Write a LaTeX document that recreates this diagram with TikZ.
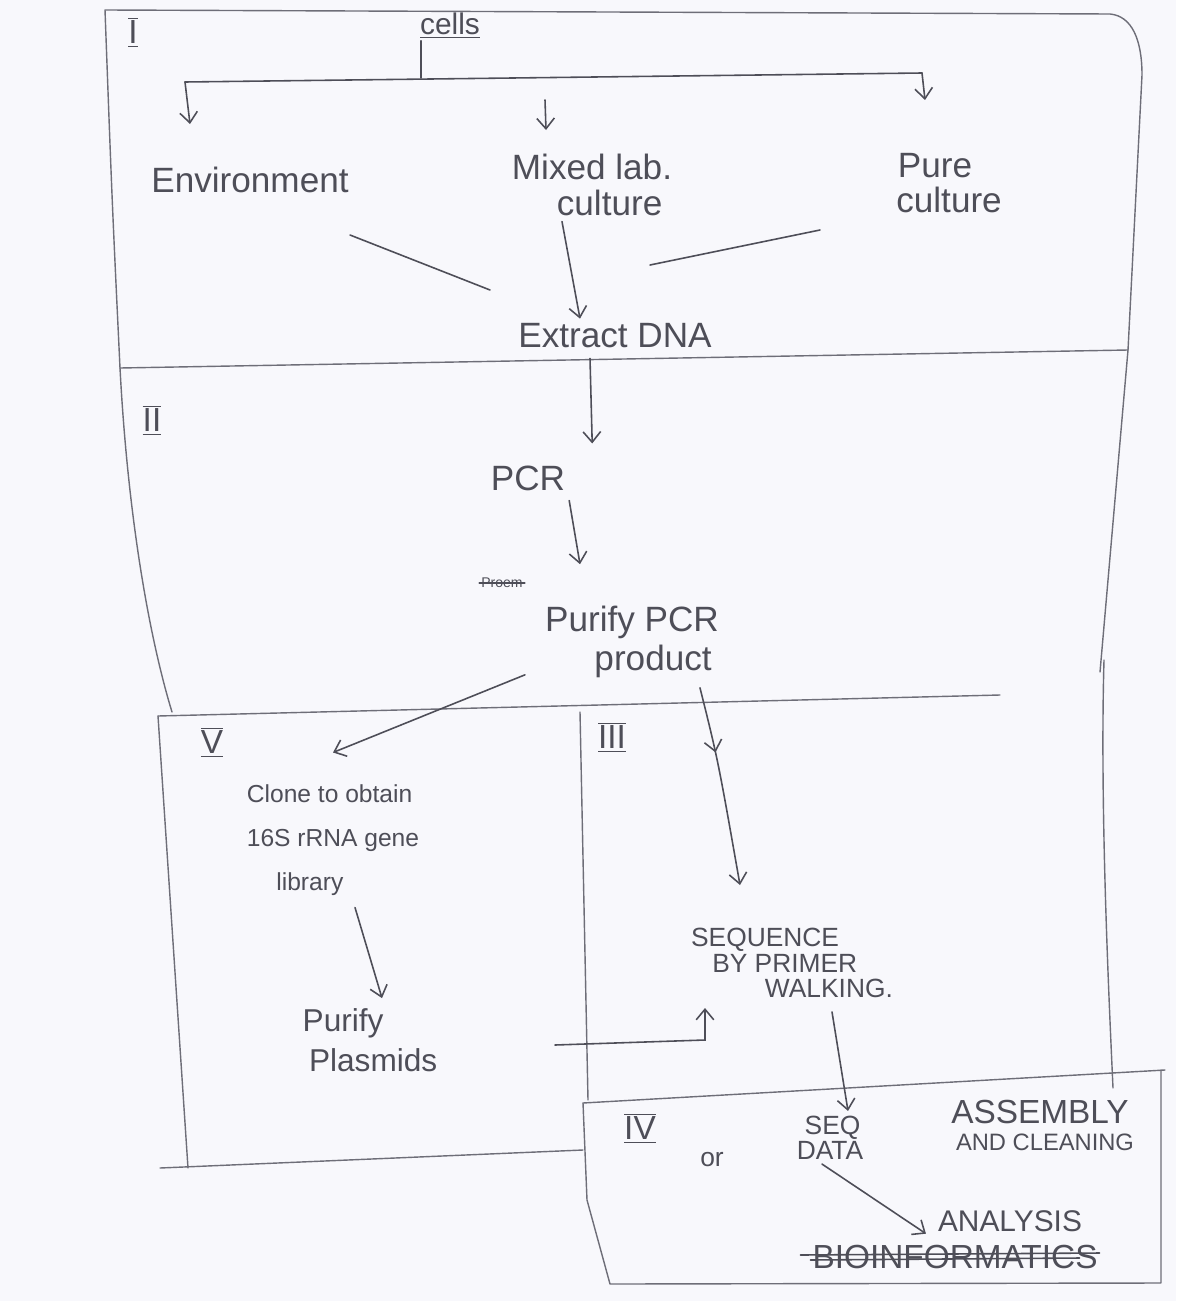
\documentclass[tikz,border=0pt]{standalone}
\usepackage{fontspec}
\setmainfont{Liberation Sans}
\usetikzlibrary{arrows.meta,calc,decorations.markings}
\definecolor{ink}{RGB}{78,78,88}
\definecolor{frame}{RGB}{110,110,120}
\definecolor{paper}{RGB}{248,248,252}
\newcommand{\rnum}[1]{$\overline{\underline{\mbox{#1}}}$}
\begin{document}
\begin{tikzpicture}[x=0.02cm,y=-0.02cm,
  pen/.style={draw=frame, line width=0.8pt, line cap=round, line join=round},
  arr/.style={draw=ink, line width=0.9pt, line cap=round, -{Straight Barb[length=6pt,width=10pt]}},
  ink/.style={draw=ink, line width=0.9pt, line cap=round},
  txt/.style={text=ink, inner sep=1pt, align=center, font=\fontsize{20}{22}\selectfont},
  caps/.style={txt, align=left, font=\fontsize{15}{14.5}\selectfont},
  roman/.style={txt, font=\fontsize{19}{21}\selectfont}]
\fill[paper] (0,0) rectangle (1176,1301);
\useasboundingbox (0,0) rectangle (1176,1301);

% ---------- frames ----------
\draw[pen] (120,368) .. controls (112,200) .. (105,10) -- (1110,14)
  .. controls (1132,16) and (1142,40) .. (1142,75) -- (1128,350) -- (1100,672);
\draw[pen] (120,368) .. controls (128,520) and (150,640) .. (172,712);
\draw[pen] (120,368) -- (1128,350);
\draw[pen] (158,716) -- (1000,695);
\draw[pen] (158,716) -- (188,1168);
\draw[pen] (160,1168) -- (583,1150);
\draw[pen] (580,712) -- (588,1100);
\draw[pen] (1104,660) .. controls (1100,800) and (1108,980) .. (1113,1088);
\draw[pen] (583,1103) -- (1165,1070);
\draw[pen] (583,1103) -- (587,1200) -- (610,1284) -- (1161,1283) -- (1161,1070);

% ---------- roman numerals ----------
\node[roman] (rI)   at (133,32)   {\rnum{I}};
\node[roman] (rII)  at (152,420)  {\rnum{II}};
\node[roman] (rV)   at (212,742)  {\rnum{V}};
\node[roman] (rIII) at (612,737)  {\rnum{III}};
\node[roman] (rIV)  at (640,1128) {\rnum{IV}};

% ---------- section I ----------
\node[txt, font=\fontsize{17}{19}\selectfont] (cells) at (450,26) {\underline{cells}};
\node[txt] (env)   at (250,180) {Environment};
\node[txt, font=\fontsize{20}{20}\selectfont] (mixed) at (592,185) {Mixed lab.\\\hspace*{1em}culture};
\node[txt, font=\fontsize{20}{20}\selectfont] (pure)  at (935,183) {Pure\\\hspace*{0.8em}culture};
\node[txt] (extract) at (615,336) {Extract DNA};

\coordinate (split) at (421,78);
\coordinate (bl) at (185,82);
\coordinate (br) at (922,73);
\coordinate (envtip) at (190,124);
\coordinate (mixtip) at (546,130);
\coordinate (puretip) at (925,100);
\draw[ink] (cells.south -| split) -- (split);
\draw[ink] (bl) -- (br);
\draw[arr] (bl) -- (envtip);
\draw[arr] (545,100) -- (mixtip);
\draw[arr] (br) -- (puretip);

\coordinate (envout) at (350,235);
\coordinate (envin) at (490,290);
\coordinate (pureout) at (820,230);
\coordinate (purein) at (650,265);
\draw[ink] (envout) -- (envin);
\draw[ink] (pureout) -- (purein);
\draw[arr] ($(mixed.south)+(-30,4)$) -- ($(extract.north)+(-35,-3)$);

% ---------- section II ----------
\node[txt] (pcr) at (528,478) {PCR};
\node[txt] (purify) at (632,642) {Purify PCR\\\hspace*{1.2em}product};
\node[txt, font=\fontsize{8}{9}\selectfont] (strike) at (502,583) {Proem};
\draw[ink] (strike.west) -- (strike.east);

\draw[arr] ($(extract.south)+(-25,8)$) -- ($(pcr.north east)+(25,-20)$);
\draw[arr] ($(pcr.south east)+(2,8)$) -- ($(purify.north)+(-52,-40)$);

% ---------- section V ----------
\node[txt, align=left, font=\fontsize{14}{25}\selectfont] (clone) at (333,840)
  {Clone to obtain\\16S rRNA gene\\\hspace*{1.2em}library};
\node[txt, align=left, font=\fontsize{18}{23}\selectfont] (plas) at (370,1040)
  {Purify\\\hspace*{0.2em}Plasmids};
\draw[arr] ($(purify.south west)+(-18,-5)$) -- ($(clone.north)+(0,-30)$);
\draw[arr] ($(clone.south)+(22,10)$) -- ($(plas.north)+(12,-8)$);

% ---------- section III ----------
\node[caps] (seq) at (792,963) {SEQUENCE\\\hspace*{0.8em}BY PRIMER\\\hspace*{2.8em}WALKING.};
\coordinate (seqtop) at (740,885);
\draw[arr, postaction={decorate}, decoration={markings,
   mark=at position 0.33 with {\arrow{Straight Barb[length=6pt,width=10pt]}}}]
   ($(purify.south)+(68,8)$) .. controls (718,760) .. (seqtop);
\coordinate (plasout) at (555,1045);
\coordinate (seqleft) at (705,1008);
\draw[arr] (plasout) -- (705,1040) -- (seqleft);

% ---------- section IV ----------
\node[caps] (seqdata) at (830,1138) {\hspace*{0.3em}SEQ\\DATA};
\node[txt, font=\fontsize{19}{21}\selectfont] (assembly) at (1040,1112) {ASSEMBLY};
\node[txt, font=\fontsize{13.5}{15}\selectfont] (cleaning) at (1045,1142) {AND CLEANING};
\node[txt, font=\fontsize{15}{17}\selectfont] (or) at (712,1160) {or};
\node[txt, font=\fontsize{17}{19}\selectfont] (analysis) at (1010,1221) {ANALYSIS};
\node[txt, font=\fontsize{19}{21}\selectfont] (bioinf) at (955,1257) {BIOINFORMATICS};
\draw[ink] ($(bioinf.west)+(-10,-2)$) -- ($(bioinf.east)+(0,-4)$);
\draw[ink] ($(bioinf.west)+(0,3)$) -- ($(bioinf.east)+(-20,1)$);

\draw[arr] ($(seq.south)+(40,12)$) -- ($(seqdata.north)+(18,-3)$);
\draw[arr] ($(seqdata.south)+(-8,2)$) -- ($(analysis.south west)+(-10,0)$);
\end{tikzpicture}
\end{document}
